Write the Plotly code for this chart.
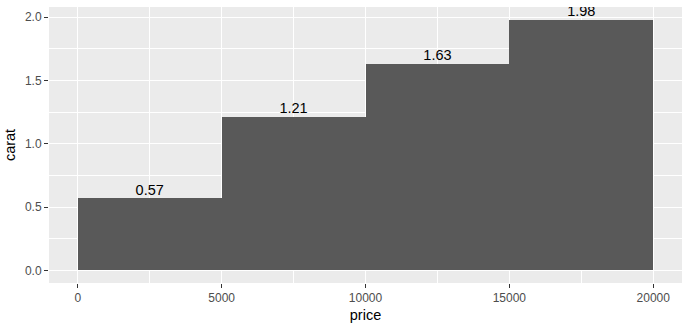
import plotly.graph_objects as go

bin_starts = [0, 5000, 10000, 15000]
bin_ends = [5000, 10000, 15000, 20000]
carat = [0.57, 1.21, 1.63, 1.98]
labels = ["0.57", "1.21", "1.63", "1.98"]
x_ticks = [0, 5000, 10000, 15000, 20000]
y_ticks = [0.0, 0.5, 1.0, 1.5, 2.0]
y_tick_text = ["0.0", "0.5", "1.0", "1.5", "2.0"]

mids = [(a + b) / 2 for a, b in zip(bin_starts, bin_ends)]
widths = [b - a for a, b in zip(bin_starts, bin_ends)]

fig = go.Figure()
fig.add_trace(go.Bar(x=mids, y=carat, width=widths, marker=dict(color="#595959", line=dict(width=0)),
                     hoverinfo="skip"))
fig.add_trace(go.Scatter(x=mids, y=carat, mode="text", text=labels, textposition="top center",
                         textfont=dict(family="Liberation Sans, Arial", size=14.5, color="black"),
                         cliponaxis=True, hoverinfo="skip"))

axis_common = dict(
    showgrid=True, gridcolor="white", gridwidth=1.1,
    zeroline=False, showline=False,
    ticks="outside", ticklen=4, tickwidth=1.1, tickcolor="#333333",
    tickfont=dict(family="Liberation Sans, Arial", size=12, color="#4D4D4D"),
)

fig.update_layout(
    width=690, height=329,
    margin=dict(l=49, r=8, t=7, b=46),
    plot_bgcolor="#EBEBEB", paper_bgcolor="white",
    showlegend=False, bargap=0,
    xaxis=dict(range=[-1000, 21000], tickvals=x_ticks, ticktext=[str(v) for v in x_ticks],
               title=dict(text="price", font=dict(family="Liberation Sans, Arial", size=14.5, color="black"),
                          standoff=5),
               minor=dict(showgrid=True, gridcolor="white", gridwidth=0.55, ticks="",
                          tickvals=[2500, 7500, 12500, 17500]),
               **axis_common),
    yaxis=dict(range=[-0.099, 2.079], tickvals=y_ticks, ticktext=y_tick_text,
               title=dict(text="carat", font=dict(family="Liberation Sans, Arial", size=14.5, color="black"),
                          standoff=5),
               minor=dict(showgrid=True, gridcolor="white", gridwidth=0.55, ticks="",
                          tickvals=[0.25, 0.75, 1.25, 1.75]),
               **axis_common),
)

fig.write_html("out.html")
